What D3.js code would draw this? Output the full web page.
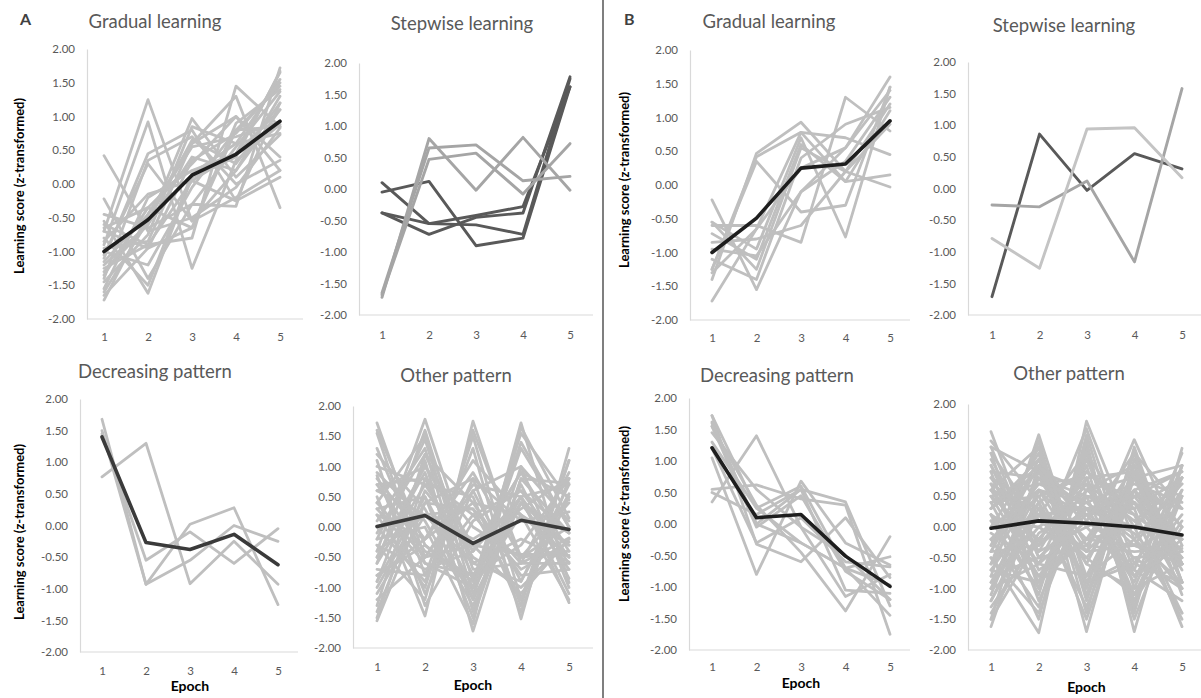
<!DOCTYPE html>
<html>
<head>
<meta charset="utf-8">
<script src="https://cdn.jsdelivr.net/npm/d3@7/dist/d3.min.js"></script>
<style>
  html, body { margin: 0; padding: 0; background: #fff; }
  svg { display: block; font-family: Lato, "Open Sans", sans-serif; }
</style>
</head>
<body>
<svg id="chart" width="1201" height="698"></svg>
<script>
// ---------- DATA ----------
const epochs = [1, 2, 3, 4, 5];
const yTicks = [-2, -1.5, -1, -0.5, 0, 0.5, 1, 1.5, 2];

// A: Gradual learning
const aGradualLines = [
  [0.42, -0.70, -0.50, -0.05, 0.83],
  [-0.70, 1.25, -0.55, -0.20, 0.20],
  [-0.90, 0.92, -1.25, 0.35, 0.88],
  [-1.72, -0.45, 0.55, 0.70, 0.92],
  [-1.55, -0.20, 0.20, 0.45, 1.10],
  [-1.30, -0.60, 0.40, 0.20, 1.30],
  [-1.10, 0.45, 0.80, -0.25, 0.10],
  [-1.40, 0.35, 0.70, 0.00, 0.35],
  [-0.22, -1.40, -0.30, 0.55, 1.37],
  [-0.55, -1.62, 0.10, 0.40, 1.67],
  [-0.80, -1.50, 0.15, 0.60, 1.55],
  [-1.00, -1.20, -0.05, 0.80, 1.45],
  [-0.60, -0.90, -0.80, 1.45, 0.85],
  [-1.20, -0.60, 0.97, 0.10, 0.73],
  [-0.95, -0.85, 0.60, 1.00, 0.20],
  [-1.35, -0.35, 0.30, 1.00, 0.40],
  [-0.70, -0.95, -0.65, 0.90, 1.40],
  [-1.60, -0.55, 0.65, 0.30, 1.20],
  [-1.15, -0.45, 0.60, 1.30, -0.35],
  [-0.45, -0.65, -0.30, -0.33, 1.72],
  [-1.25, -0.90, 0.05, 0.45, 1.65],
  [-0.85, -0.15, 0.05, -0.25, 1.20],
  [-1.45, -0.75, 0.85, 0.60, 0.75],
  [-0.65, -0.35, -0.65, 0.80, 0.85],
  [-1.05, 0.30, -0.55, 0.20, 1.10],
  [-1.65, -0.95, 0.35, 0.75, 1.50]
];
const aGradualMean = [-1.00, -0.53, 0.13, 0.44, 0.93];

// A: Stepwise learning
const aStepwiseDark = [
  [-0.05, 0.12, -0.90, -0.78, 1.62],
  [0.10, -0.55, -0.57, -0.72, 1.75],
  [-0.38, -0.55, -0.42, -0.28, 1.62],
  [-0.38, -0.72, -0.45, -0.38, 1.78]
];
const aStepwiseLight = [
  [-1.72, 0.80, -0.02, 0.82, -0.02],
  [-1.65, 0.65, 0.70, 0.13, 0.20],
  [-1.68, 0.47, 0.57, -0.08, 0.72]
];

// A: Decreasing pattern
const aDecreasingLines = [
  [0.77, 1.30, -0.92, -0.25, -0.93],
  [1.68, -0.93, 0.02, 0.28, -1.25],
  [1.45, -0.55, -0.10, -0.60, -0.05],
  [1.50, -0.93, -0.55, 0.00, -0.25]
];
const aDecreasingMean = [1.40, -0.27, -0.38, -0.14, -0.62];

// A: Other pattern
const aOtherLines = [
  [1.72, -0.50, -0.30, -0.45, -0.47],
  [1.55, -0.80, 0.20, -0.70, -0.25],
  [1.20, 0.30, -1.20, 0.40, -0.70],
  [0.85, -1.10, 0.60, -0.90, 0.55],
  [-1.55, 0.40, 0.80, 0.10, 0.25],
  [-1.30, 1.20, -0.40, 0.90, -0.40],
  [-0.40, 1.78, -0.60, -0.20, -0.58],
  [-0.60, 1.60, -0.90, 0.50, -0.60],
  [-0.20, 1.45, -1.10, 0.70, -0.85],
  [0.10, 1.30, -1.40, 1.00, -1.00],
  [-0.90, 1.10, -1.72, 0.80, 0.72],
  [-0.50, 0.90, -1.20, 1.72, -0.92],
  [-0.80, -0.30, -0.90, 1.55, 0.45],
  [0.30, -0.60, -1.00, 1.30, 0.00],
  [-0.20, 0.00, -1.60, 1.65, 0.15],
  [0.50, -1.47, 1.75, -0.60, -0.18],
  [-0.30, -1.20, 1.60, -0.50, 0.40],
  [0.20, -1.00, 1.50, -1.20, 0.50],
  [-0.70, -0.80, 1.30, -1.52, 1.30],
  [0.00, -0.90, 0.80, -1.30, 1.10],
  [0.70, 0.80, -0.80, 0.50, -1.25],
  [0.80, -0.20, 0.40, 0.20, -1.20],
  [-1.00, 0.40, 0.30, -0.60, 0.90],
  [-1.20, -0.50, 0.60, 1.00, 0.10],
  [0.60, 1.00, -0.30, -1.10, -0.20],
  [1.00, 0.70, -0.50, -1.00, -0.20],
  [0.40, -0.50, 0.70, 0.50, -1.10],
  [-0.40, 0.20, 0.30, -1.20, 1.10],
  [1.10, -1.30, 0.10, 0.60, -0.50],
  [-1.40, 0.60, -0.40, 0.50, 0.70],
  [0.30, 0.50, -1.50, 0.80, -0.10],
  [-0.60, 0.70, 0.50, -1.40, 0.80],
  [0.70, -0.40, -0.80, -0.30, 0.80],
  [-0.10, 1.20, 0.40, -0.80, -0.70],
  [-1.10, 0.20, -0.20, 0.30, 0.80],
  [0.90, 0.10, -1.30, 0.40, -0.10],
  [-0.30, -0.70, -0.40, 0.90, 0.50],
  [0.40, 1.50, -0.70, -0.60, -0.60],
  [-0.80, -0.20, 1.10, 0.20, -0.30],
  [1.30, -0.60, -0.80, 0.40, -0.30],
  [-0.90, 0.50, -1.00, 1.40, 0.00],
  [0.20, -0.20, 0.90, -0.50, -0.40],
  [-1.50, 0.80, 0.20, 0.60, -0.10],
  [0.60, 0.20, -0.60, -0.90, 0.70],
  [-0.50, 1.00, 0.00, -0.50, 0.00],
  [1.60, -0.30, -1.00, 0.20, -0.50]
];
const aOtherMean = [0.01, 0.19, -0.27, 0.11, -0.04];

// B: Gradual learning
const bGradualLines = [
  [-1.40, 0.47, 0.93, 0.20, -0.03],
  [-1.25, 0.42, 0.78, 0.05, 0.15],
  [-0.60, -0.60, -0.85, 1.30, 0.80],
  [-0.55, -0.95, 0.70, -0.77, 1.45],
  [-1.72, -0.65, 0.25, 0.55, 1.60],
  [-0.22, -1.55, -0.10, 0.35, 1.30],
  [-1.10, -1.40, 0.40, 0.90, 1.15],
  [-0.72, -1.10, 0.60, 0.05, 1.10],
  [-1.25, 0.35, -0.40, -0.30, 1.45],
  [-0.85, -0.80, -0.60, 0.20, 1.20],
  [-0.55, -1.25, 0.55, 0.20, 0.90],
  [-1.30, -0.65, 0.78, 0.70, 0.45],
  [-0.95, -1.05, -0.10, 0.55, 1.40]
];
const bGradualMean = [-1.00, -0.49, 0.25, 0.31, 0.95];

// B: Stepwise learning
const bStepwiseDark = [[-1.71, 0.86, -0.03, 0.55, 0.31]];
const bStepwiseMid = [[-0.26, -0.29, 0.12, -1.16, 1.58]];
const bStepwiseLight = [[-0.79, -1.26, 0.94, 0.96, 0.17]];

// B: Decreasing pattern
const bDecreasingLines = [
  [1.72, 0.25, -0.30, -0.70, -0.97],
  [1.60, 0.00, 0.55, -1.05, -1.10],
  [1.55, -0.05, 0.45, -0.75, -1.20],
  [0.35, 1.40, -0.05, -0.50, -1.20],
  [0.55, 0.62, 0.40, 0.30, -1.75],
  [1.05, -0.80, 0.68, -0.30, -0.65],
  [1.72, -0.32, -0.60, 0.10, -0.85],
  [1.55, 0.30, -0.45, -1.38, -0.20],
  [1.45, 0.55, -0.05, -1.15, -0.80],
  [1.30, 0.25, 0.60, -0.70, -1.45],
  [1.62, 0.00, -0.30, -0.70, -0.52],
  [0.50, 0.15, 0.55, 0.35, -1.30],
  [1.20, -0.30, 0.10, -0.60, -0.68]
];
const bDecreasingMean = [1.21, 0.10, 0.15, -0.51, -0.99];

// B: Other pattern
const bOtherLines = [
  [1.55, -0.50, -0.30, -0.40, -0.35],
  [1.30, 0.90, -0.60, -1.00, -0.60],
  [1.20, -1.00, 0.80, -0.80, -0.20],
  [1.00, -0.70, -0.20, 0.60, -0.70],
  [0.90, 0.80, 0.20, -0.70, -1.20],
  [-1.62, 0.60, 0.20, 0.50, 0.30],
  [-1.50, 1.00, -0.30, 0.80, 0.00],
  [-1.30, -0.20, 0.70, 0.10, 0.70],
  [-1.00, 0.30, -0.40, 1.42, -0.30],
  [-0.80, 1.50, -0.90, 0.60, -0.40],
  [-0.60, 1.40, -1.20, 1.00, -0.60],
  [-0.30, 1.30, -1.40, 1.30, -0.90],
  [0.00, 1.20, -1.70, 1.10, -0.60],
  [-0.40, 1.10, -1.00, 1.20, -0.90],
  [0.30, 1.00, -1.10, 0.90, -1.10],
  [-0.50, -1.72, 1.72, -0.20, 0.70],
  [0.20, -1.50, 1.50, -1.00, 0.80],
  [-0.20, -1.30, 1.30, -1.40, 1.28],
  [0.40, -1.10, 1.40, -1.70, 1.00],
  [0.10, -1.00, 1.20, -1.30, 1.00],
  [-0.70, -0.90, 1.10, -0.70, 1.20],
  [0.60, -0.60, 1.00, -1.50, 0.50],
  [0.80, -0.40, 0.90, 0.30, -1.62],
  [0.50, 0.70, 0.40, -0.20, -1.40],
  [-0.20, 0.50, 0.90, 0.20, -1.40],
  [0.30, 0.90, 0.30, 0.00, -1.50],
  [-1.10, 0.80, 0.50, 0.40, -0.60],
  [-0.90, 0.00, -0.50, 0.50, 0.90],
  [0.70, 0.20, -0.80, 0.80, -0.90],
  [-0.40, -0.30, 0.60, 1.00, -0.90],
  [1.10, -0.30, 0.30, -0.10, -1.00],
  [-1.20, 0.40, 0.90, 0.40, -0.50],
  [0.20, -0.80, -0.20, 0.00, 0.80],
  [-0.60, 0.20, 0.30, -0.90, 1.00],
  [0.60, 0.30, -1.30, 0.60, -0.20],
  [-1.40, -0.10, 0.40, 0.70, 0.40],
  [0.90, -1.20, 0.50, 0.20, -0.40],
  [-0.30, 0.70, 0.80, -1.20, 0.00],
  [0.40, 0.50, -0.90, -0.60, 0.60],
  [-0.80, -0.50, 0.20, 0.30, 0.80],
  [1.20, 0.10, -0.40, -0.30, -0.60],
  [-0.10, -0.60, -0.80, 0.60, 0.90],
  [0.50, -0.20, 0.70, -1.10, 0.10],
  [-1.00, 0.90, 0.60, 0.10, -0.60],
  [0.00, 0.60, -0.60, 0.90, -0.90],
  [1.40, 0.40, -0.90, -0.50, -0.40],
  [-0.50, -1.40, 0.60, 0.80, 0.50],
  [0.70, -0.90, -0.20, 1.00, -0.60],
  [-1.20, 0.20, 1.20, 0.00, -0.20],
  [0.30, 1.10, 0.10, -0.50, -1.00],
  [-0.70, 0.40, -1.50, 0.80, 1.00],
  [0.10, 0.00, 0.50, -1.20, 0.60],
  [1.00, -0.40, 0.00, 0.40, -1.00],
  [-0.20, 0.60, 0.40, -0.30, -0.50],
  [-1.50, -0.20, 0.80, 0.90, 0.00],
  [0.80, 0.30, -0.50, -1.10, 0.50],
  [-0.40, 1.00, 0.00, -0.80, 0.20],
  [0.50, -0.80, 0.30, 0.50, -0.50],
  [-0.90, 0.60, -0.20, -0.30, 0.80],
  [0.20, -0.30, 1.60, -0.60, -0.90],
  [-1.00, -0.60, 0.10, 1.20, 0.30],
  [1.30, -0.50, 0.30, -0.80, -0.30],
  [-0.60, 0.80, -0.40, 0.40, -0.20],
  [0.60, 1.30, -0.80, -0.20, -0.90]
];
const bOtherMean = [-0.02, 0.10, 0.06, 0.00, -0.13];

const panelTitles = ["Gradual learning", "Stepwise learning", "Decreasing pattern", "Other pattern"];
const yAxisTitle = "Learning score (z-transformed)";
const xAxisTitle = "Epoch";
const panelLetters = ["A", "B"];

// ---------- LAYOUT ----------
const GRAY = "#bfbfbf", MID = "#a5a5a5", DARK = "#595959", BLACK = "#1e1e1e";
const panels = [
  { title: panelTitles[0], ax: 87, xEnd: 303, yTop: 49, yBot: 319, p1: 104, p5: 280, tx: 155, ty: 28, xPad: 14,
    series: [{ data: aGradualLines, color: GRAY, w: 2.8 }, { data: [aGradualMean], color: BLACK, w: 3.6 }],
    yLabel: { x: 19, y: 186 } },
  { title: panelTitles[1], ax: 359, xEnd: 593, yTop: 63, yBot: 315, p1: 382, p5: 570, tx: 462, ty: 30, xPad: 16,
    series: [{ data: aStepwiseDark, color: DARK, w: 2.9 }, { data: aStepwiseLight, color: MID, w: 2.9 }] },
  { title: panelTitles[2], ax: 80, xEnd: 298, yTop: 399, yBot: 652, p1: 102, p5: 278, tx: 155, ty: 378, xPad: 15, xTitleY: 686,
    series: [{ data: aDecreasingLines, color: GRAY, w: 2.8 }, { data: [aDecreasingMean], color: "#3a3a3a", w: 3.6 }],
    yLabel: { x: 19, y: 532 } },
  { title: panelTitles[3], ax: 353, xEnd: 593, yTop: 406, yBot: 648, p1: 377, p5: 569, tx: 456, ty: 382, xPad: 15, xTitleY: 685,
    series: [{ data: aOtherLines, color: GRAY, w: 2.8 }, { data: [aOtherMean], color: "#3a3a3a", w: 3.6 }] },
  { title: panelTitles[0], ax: 690, xEnd: 910, yTop: 50, yBot: 320, p1: 712, p5: 890, tx: 769, ty: 28, xPad: 14,
    series: [{ data: bGradualLines, color: GRAY, w: 2.8 }, { data: [bGradualMean], color: BLACK, w: 3.6 }],
    yLabel: { x: 624, y: 180 } },
  { title: panelTitles[1], ax: 968, xEnd: 1201, yTop: 62, yBot: 315, p1: 992, p5: 1182, tx: 1064, ty: 32, xPad: 16,
    series: [{ data: bStepwiseDark, color: DARK, w: 2.9 }, { data: bStepwiseMid, color: MID, w: 2.9 }, { data: bStepwiseLight, color: "#c4c4c4", w: 2.9 }] },
  { title: panelTitles[2], ax: 689, xEnd: 910, yTop: 398, yBot: 650, p1: 712, p5: 890, tx: 777, ty: 382, xPad: 13, xTitleY: 683,
    series: [{ data: bDecreasingLines, color: GRAY, w: 2.8 }, { data: [bDecreasingMean], color: BLACK, w: 3.6 }],
    yLabel: { x: 624, y: 514 } },
  { title: panelTitles[3], ax: 968, xEnd: 1201, yTop: 404, yBot: 650, p1: 991, p5: 1182, tx: 1069, ty: 380, xPad: 13, xTitleY: 687,
    series: [{ data: bOtherLines, color: GRAY, w: 2.8 }, { data: [bOtherMean], color: BLACK, w: 3.6 }] }
];

const svg = d3.select("#chart");
const fmt = d => d.toFixed(2);

panels.forEach(p => {
  const g = svg.append("g");
  const y = d3.scaleLinear().domain([-2, 2]).range([p.yBot, p.yTop]);
  const x = d3.scalePoint().domain(epochs).range([p.p1, p.p5]);

  // axes
  const ya = g.append("g").attr("transform", `translate(${p.ax},0)`)
    .call(d3.axisLeft(y).tickValues(yTicks).tickFormat(fmt).tickSize(0).tickPadding(12));
  ya.select(".domain").attr("stroke", "#d9d9d9").attr("stroke-width", 1.2);
  ya.selectAll("text").attr("fill", "#595959").style("font-size", "11.5px").style("font-family", "Lato, sans-serif");

  g.append("line").attr("x1", p.ax).attr("x2", p.xEnd).attr("y1", p.yBot).attr("y2", p.yBot)
    .attr("stroke", "#d9d9d9").attr("stroke-width", 1.2);
  const xa = g.append("g").attr("transform", `translate(0,${p.yBot})`)
    .call(d3.axisBottom(x).tickSize(0).tickPadding(p.xPad));
  xa.select(".domain").remove();
  xa.selectAll("text").attr("fill", "#595959").style("font-size", "11.5px").style("font-family", "Lato, sans-serif");

  // lines
  const line = d3.line().x((d, i) => x(epochs[i])).y(d => y(d));
  p.series.forEach(s => {
    g.append("g").selectAll("path").data(s.data).join("path")
      .attr("d", line).attr("fill", "none").attr("stroke", s.color)
      .attr("stroke-width", s.w).attr("stroke-linejoin", "round").attr("stroke-linecap", "round");
  });

  // title
  g.append("text").attr("x", p.tx).attr("y", p.ty).attr("text-anchor", "middle")
    .attr("fill", "#595959").style("font-size", "18.5px").text(p.title);

  if (p.xTitleY) {
    g.append("text").attr("x", (p.p1 + p.p5) / 2).attr("y", p.xTitleY).attr("text-anchor", "middle")
      .attr("dy", "0.35em").attr("fill", "#000").style("font-size", "14px").style("font-weight", "bold").text(xAxisTitle);
  }
  if (p.yLabel) {
    g.append("text").attr("transform", `translate(${p.yLabel.x},${p.yLabel.y}) rotate(-90)`)
      .attr("text-anchor", "middle").attr("dy", "0.35em").attr("fill", "#000")
      .style("font-size", "13px").style("font-weight", "bold").text(yAxisTitle);
  }
});

// panel letters and divider
svg.append("text").attr("x", 20).attr("y", 25).attr("fill", "#404040")
  .style("font-size", "16px").style("font-weight", "bold").text(panelLetters[0]);
svg.append("text").attr("x", 624).attr("y", 25).attr("fill", "#404040")
  .style("font-size", "16px").style("font-weight", "bold").text(panelLetters[1]);
svg.append("line").attr("x1", 603).attr("x2", 603).attr("y1", 0).attr("y2", 698)
  .attr("stroke", "#7f7f7f").attr("stroke-width", 2);
</script>
</body>
</html>
